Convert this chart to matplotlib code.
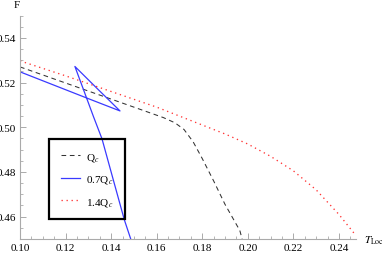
import numpy as np
import matplotlib.pyplot as plt
from matplotlib.ticker import MultipleLocator

plt.rcParams['font.family'] = 'Liberation Serif'
plt.rcParams['mathtext.fontset'] = 'stix'

# Q_c (black dashed)
T_qc = [0.100, 0.120, 0.140, 0.155, 0.163, 0.168, 0.172, 0.176, 0.180, 0.185, 0.190, 0.1965, 0.1975]
F_qc = [0.5270, 0.5198, 0.5126, 0.5072, 0.5043, 0.5020, 0.4990, 0.4935, 0.4860, 0.4760, 0.4655, 0.4538, 0.4500]

# 0.7 Q_c (blue solid, swallowtail)
T_07 = [0.100, 0.110, 0.120, 0.130, 0.1439, 0.134, 0.1241, 0.1285, 0.1322, 0.1360, 0.1410, 0.1458, 0.1490]
F_07 = [0.5248, 0.5208, 0.5168, 0.5128, 0.5073, 0.5172, 0.5272, 0.5151, 0.5049, 0.4948, 0.4763, 0.4586, 0.4488]

# 1.4 Q_c (red dotted)
T_14 = [0.100, 0.120, 0.140, 0.160, 0.170, 0.180, 0.190, 0.200, 0.210, 0.220, 0.230, 0.240, 0.2475]
F_14 = [0.5297, 0.5230, 0.5160, 0.5090, 0.5050, 0.5010, 0.4970, 0.4925, 0.4870, 0.4805, 0.4720, 0.4610, 0.4515]

fig = plt.figure(figsize=(3.82, 2.55), dpi=100)
ax = fig.add_axes([20/382, 1-240/255, 336/382, 223.5/255])

ax.plot(T_qc, F_qc, color='#333333', lw=0.75, linestyle=(0, (4.5, 3.5)), label=r'Q$_c$')
ax.plot(T_07, F_07, color='#3a3aff', lw=0.9, label=r'0.7Q$_c$')
ax.plot(T_14, F_14, color='#ff3333', lw=0.95, linestyle=(0, (1, 2.8)), label=r'1.4Q$_c$')

ax.set_xlim(0.10, 0.2475)
ax.set_ylim(0.45, 0.55)
ax.xaxis.set_minor_locator(MultipleLocator(0.005))
ax.yaxis.set_minor_locator(MultipleLocator(0.005))
ax.set_xticks([0.10, 0.12, 0.14, 0.16, 0.18, 0.20, 0.22, 0.24])
ax.set_yticks([0.46, 0.48, 0.50, 0.52, 0.54])
ax.xaxis.set_major_formatter(plt.FormatStrFormatter('%.2f'))
ax.yaxis.set_major_formatter(plt.FormatStrFormatter('%.2f'))

for s in ['top', 'right']:
    ax.spines[s].set_visible(False)
for s in ['left', 'bottom']:
    ax.spines[s].set_color('#aaaaaa')
    ax.spines[s].set_linewidth(0.8)
ax.tick_params(which='both', direction='in', color='#aaaaaa', labelsize=8, pad=3)
ax.tick_params(which='major', length=4, width=0.7)
ax.tick_params(which='minor', length=2.5, width=0.6)

# legend box is see-through in the original
leg = ax.legend(loc='upper left', bbox_to_anchor=(29/336, 100/223.5), borderaxespad=0,
                fontsize=8, frameon=True, fancybox=False, handlelength=1.7,
                handletextpad=0.55, labelspacing=0.95, borderpad=1.05, framealpha=1)
leg.get_frame().set_facecolor('none')
leg.get_frame().set_edgecolor('black')
leg.get_frame().set_linewidth(1.6)

fig.text(17/382, 1-6/255, 'F', ha='center', va='center', fontsize=8)
fig.text(364/382, 1-241/255, r'$T_{\mathrm{Loc}}$', ha='left', va='center', fontsize=8)

plt.savefig('out.png', dpi=100)
